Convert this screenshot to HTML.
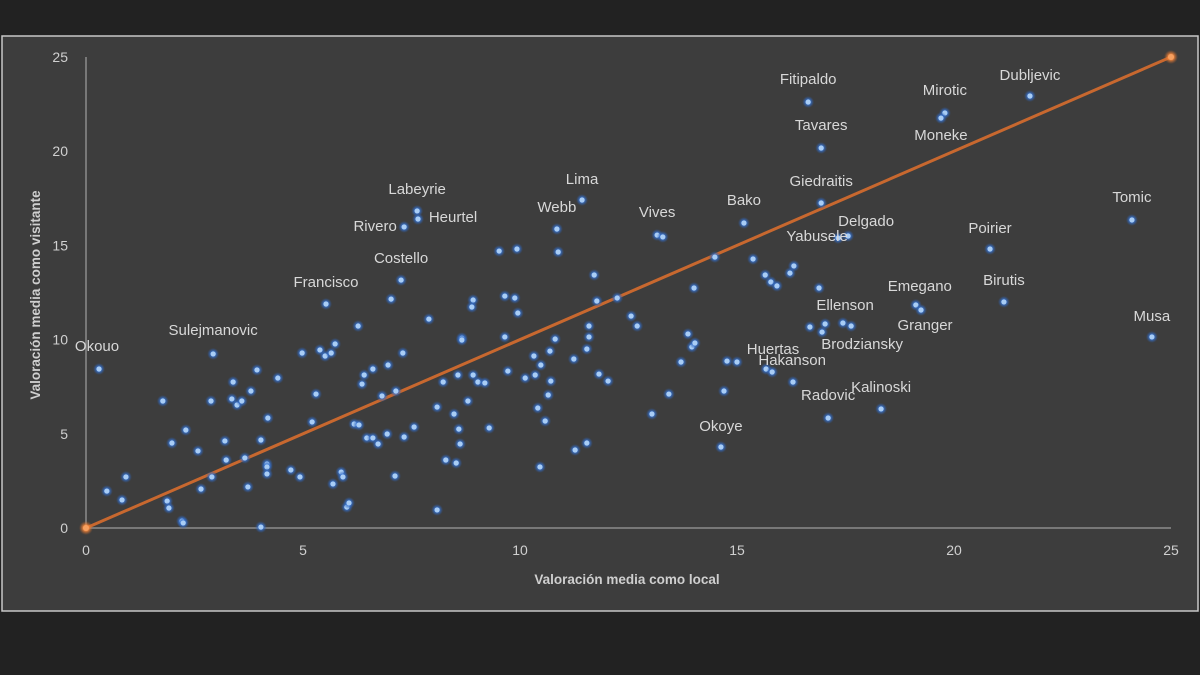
<!DOCTYPE html>
<html><head><meta charset="utf-8"><style>
html,body{margin:0;padding:0;background:#222;}
svg{display:block;}
text{font-family:"Liberation Sans","DejaVu Sans",sans-serif;}
</style></head><body>
<svg id="chart" width="1200" height="675" viewBox="0 0 1200 675">
<rect x="0" y="0" width="1200" height="675" fill="#222"/>
<rect x="2" y="36" width="1196" height="575" fill="#3d3d3d" stroke="#c8c8c8" stroke-width="1.5"/>
<defs><radialGradient id="glow"><stop offset="0.4" stop-color="#3a78d8" stop-opacity="0.9"/><stop offset="1" stop-color="#2a5aa8" stop-opacity="0"/></radialGradient>
<radialGradient id="oglow"><stop offset="0.4" stop-color="#ff8a3a" stop-opacity="0.9"/><stop offset="1" stop-color="#c0632b" stop-opacity="0"/></radialGradient></defs>
<g id="axes"></g><g id="trend"></g><g id="points"></g><g id="labels"></g>
</svg>
<script>
const xTicks=[0,5,10,15,20,25];
const yTicks=[0,5,10,15,20,25];
const xs=[0.30,2.93,1.77,1.98,2.30,2.58,2.88,3.20,3.23,3.39,3.36,3.48,3.59,3.80,3.94,4.19,4.03,3.66,2.90,2.65,3.73,4.17,4.17,4.17,4.42,4.72,4.93,5.21,5.30,5.53,4.98,5.39,5.51,5.65,5.74,6.27,7.03,6.36,6.41,6.61,6.96,7.30,6.82,7.14,6.18,6.29,6.47,6.61,6.73,6.94,7.33,7.56,7.12,5.88,5.92,5.69,6.01,6.06,8.09,8.09,7.90,8.23,8.48,8.29,8.53,0.48,0.92,0.83,1.87,1.91,2.21,2.24,4.03,7.63,7.65,7.33,7.26,9.52,9.93,10.85,10.88,11.43,13.16,13.29,11.71,14.01,8.92,8.89,9.65,9.88,9.95,8.66,8.66,9.65,11.77,12.24,12.56,12.70,11.59,11.59,11.54,10.81,10.69,10.32,11.24,10.48,13.87,13.96,14.03,13.71,8.57,8.92,9.03,9.19,9.72,10.12,10.35,10.71,10.65,10.41,10.58,8.80,8.59,8.62,9.29,10.46,11.27,11.54,13.43,13.04,11.82,12.03,14.49,15.16,15.37,15.65,15.78,15.92,16.31,16.22,16.89,16.64,16.94,19.79,19.70,21.75,16.94,17.56,17.33,20.83,24.10,19.12,19.24,21.15,17.03,16.68,17.44,17.63,16.96,24.56,14.77,15.00,15.67,15.81,16.29,18.32,17.10,14.63,14.70];
const ys=[8.44,9.24,6.74,4.51,5.20,4.09,6.74,4.62,3.61,7.75,6.85,6.53,6.74,7.27,8.39,5.84,4.67,3.72,2.71,2.07,2.18,3.40,3.24,2.87,7.96,3.08,2.71,5.63,7.11,11.89,9.29,9.45,9.13,9.29,9.77,10.72,12.15,7.64,8.12,8.44,8.65,9.29,7.01,7.27,5.52,5.47,4.78,4.78,4.46,4.99,4.83,5.36,2.76,2.97,2.71,2.34,1.11,1.33,0.96,6.42,11.09,7.75,6.05,3.61,3.45,1.96,2.71,1.49,1.43,1.06,0.37,0.27,0.05,16.83,16.40,15.98,13.16,14.70,14.81,15.87,14.65,17.41,15.55,15.45,13.43,12.74,12.10,11.73,12.31,12.21,11.41,10.08,9.98,10.14,12.05,12.21,11.25,10.72,10.72,10.14,9.50,10.03,9.39,9.13,8.97,8.65,10.30,9.61,9.82,8.81,8.12,8.12,7.75,7.70,8.33,7.96,8.12,7.80,7.06,6.37,5.68,6.74,5.25,4.46,5.31,3.24,4.14,4.51,7.11,6.05,8.17,7.80,14.38,16.19,14.28,13.43,13.06,12.85,13.91,13.53,12.74,22.61,20.17,22.03,21.76,22.93,17.25,15.50,15.39,14.81,16.35,11.84,11.57,12.00,10.83,10.67,10.88,10.72,10.40,10.14,8.86,8.81,8.44,8.28,7.75,6.32,5.84,4.30,7.27];
const labelNames=["Okouo","Sulejmanovic","Francisco","Costello","Rivero","Labeyrie","Heurtel","Webb","Lima","Vives","Bako","Fitipaldo","Tavares","Mirotic","Dubljevic","Moneke","Giedraitis","Delgado","Yabusele","Poirier","Tomic","Emegano","Birutis","Ellenson","Granger","Brodziansky","Musa","Huertas","Hakanson","Radovic","Kalinoski","Okoye"];
const labelX=[0.30,2.93,5.53,7.26,7.33,7.63,7.65,10.85,11.43,13.16,15.16,16.64,16.94,19.79,21.75,19.70,16.94,17.56,17.33,20.83,24.10,19.12,21.15,17.03,19.24,17.63,24.56,15.00,15.81,17.10,18.32,14.63];
const labelY=[8.44,9.24,11.89,13.16,15.98,16.83,16.40,15.87,17.41,15.55,16.19,22.61,20.17,22.03,22.93,21.76,17.25,15.50,15.39,14.81,16.35,11.84,12.00,10.83,11.57,10.72,10.14,8.81,8.28,5.84,6.32,4.30];
const labelOffX=[-2,0,0,0,-29,0,35,0,0,0,0,0,0,0,0,0,0,18,-21,0,0,4,0,20,4,11,0,36,20,0,0,0];
const labelOffY=[-18,-19,-17,-17,4,-17,3,-17,-16,-18,-18,-18,-18,-18,-16,22,-17,-10,3,-16,-18,-14,-17,-14,20,23,-16,-8,-7,-18,-17,-16];

const X0=86,X1=1171,Y0=528,Y1=57;
const sx=v=>X0+(X1-X0)*v/25, sy=v=>Y0-(Y0-Y1)*v/25;
const NS="http://www.w3.org/2000/svg";
function mk(tag,attrs,parent,txt){const e=document.createElementNS(NS,tag);for(const k in attrs)e.setAttribute(k,attrs[k]);if(txt!==undefined)e.textContent=txt;parent.appendChild(e);return e;}
const axes=document.getElementById('axes');
let e;
e=mk('line',{x1:X0,y1:Y1,x2:X0,y2:Y0,stroke:'#8c8c8c','stroke-width':1.5},axes);


e=mk('line',{x1:X0,y1:Y0,x2:X1,y2:Y0,stroke:'#8c8c8c','stroke-width':1.5},axes);


xTicks.forEach(t=>{const l=mk('text',{x:sx(t),y:555,'text-anchor':'middle','font-size':14,fill:'#d0d0d0'},axes,String(t));

});
yTicks.forEach(t=>{const l=mk('text',{x:68,y:sy(t)+5,'text-anchor':'end','font-size':14,fill:'#d0d0d0'},axes,String(t));

});
e=mk('text',{x:627,y:584,'text-anchor':'middle','font-size':13.5,'font-weight':'bold',fill:'#cfcfcf'},axes,'Valoración media como local');


e=mk('text',{x:0,y:0,'text-anchor':'middle','font-size':13.5,'font-weight':'bold',fill:'#cfcfcf',transform:'translate(40,295) rotate(-90)'},axes,'Valoración media como visitante');


const tr=document.getElementById('trend');
e=mk('line',{x1:sx(0),y1:sy(0),x2:sx(25),y2:sy(25),stroke:'#c8682f','stroke-width':3},tr);


[[0,0],[25,25]].forEach(p=>{const g=mk('circle',{cx:sx(p[0]),cy:sy(p[1]),r:7,fill:'url(#oglow)'},tr);


mk('circle',{cx:sx(p[0]),cy:sy(p[1]),r:3,fill:'#f7a060'},tr);});
const pg=document.getElementById('points');
xs.forEach((x,i)=>{const g=mk('g',{},pg);


mk('circle',{cx:sx(x),cy:sy(ys[i]),r:6,fill:'url(#glow)'},g);
mk('circle',{cx:sx(x),cy:sy(ys[i]),r:2.6,fill:'#a9cdf5'},g);});
const lg=document.getElementById('labels');
labelNames.forEach((n,i)=>{const t=mk('text',{x:sx(labelX[i])+labelOffX[i],y:sy(labelY[i])+labelOffY[i],'text-anchor':'middle','font-size':15,fill:'#d8d8d8'},lg,n);

});
</script>
</body></html>
